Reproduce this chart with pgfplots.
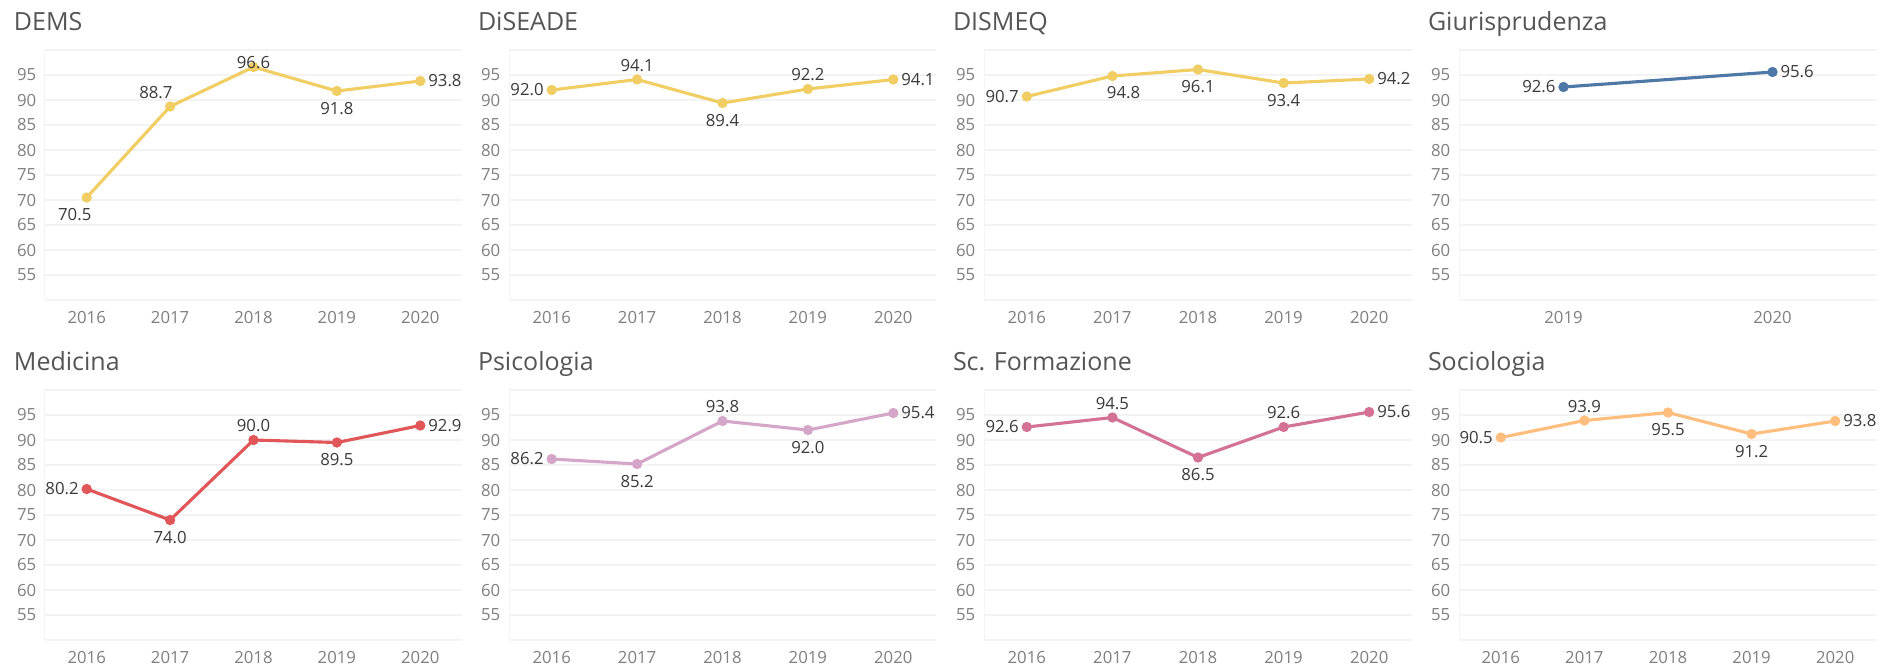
\documentclass[border=0pt]{standalone}
\usepackage{fontspec}
\setmainfont{Open Sans}
\usepackage{pgfplots}
\pgfplotsset{compat=1.18}

\definecolor{cYel}{HTML}{F1CE63}
\definecolor{cBlue}{HTML}{4E79A7}
\definecolor{cRed}{HTML}{E15759}
\definecolor{cLilac}{HTML}{D4A6C8}
\definecolor{cPink}{HTML}{D37295}
\definecolor{cOrange}{HTML}{FFBE7D}
\definecolor{titlegray}{HTML}{555555}
\definecolor{tickgray}{HTML}{7F7F7F}
\definecolor{lblgray}{HTML}{3A3A3A}
\definecolor{gridgray}{HTML}{F3F3F3}

\pgfkeys{/pgf/number format/assume math mode=true}

% one panel = one axis; 1px of the reference = 0.4pt
\pgfplotsset{
  panel/.style={
    scale only axis, height=100pt,
    anchor=north west, clip=false,
    ymin=50, ymax=100, xmin=2015.5, xmax=2020.5,
    xtick={2016,...,2020},
    ytick={50,55,...,100},
    yticklabels={{},55,60,65,70,75,80,85,90,95,{}},
    /pgf/number format/set thousands separator={},
    tick label style={font=\fontsize{6.7}{8}\selectfont, text=tickgray},
    xticklabel style={yshift=-1pt},
    major tick length=0pt,
    ymajorgrids, grid style={gridgray, line width=0.5pt},
    axis x line=bottom, axis y line=left,
    axis line style={draw=black!4, -},
  },
  series/.style={
    color=#1, line width=1.25pt,
    mark=*, mark size=1.4pt, mark options={solid, fill=#1, draw=#1},
    point meta=y,
    nodes near coords={\pgfmathprintnumber[fixed,fixed zerofill,precision=1]{\pgfplotspointmeta}},
    visualization depends on={value \thisrow{a} \as \lang},
    visualization depends on={value \thisrow{s} \as \lsh},
    nodes near coords style={anchor=\lang, yshift=\lsh pt, inner sep=2.6pt,
      font=\fontsize{6.7}{8}\selectfont, text=lblgray},
  },
}
\newcommand{\paneltitle}[1]{%
  \node[anchor=base west, font=\fontsize{10}{12}\selectfont, text=titlegray, inner sep=0pt]
    at ([xshift=-12.6pt,yshift=8pt]rel axis cs:0,1) {#1};}

\begin{document}
\begin{tikzpicture}
\path[use as bounding box] (0,0) rectangle (752pt,-266pt);

% ---- row 1
\begin{axis}[panel, at={(18pt,-20pt)}, width=166.8pt]
\addplot[series=cYel] table {
x y a s
2016 70.5 50 -1
2017 88.7 315 0
2018 96.6 270 -4
2019 91.8 90 -1.2
2020 93.8 180 0
};
\paneltitle{DEMS}
\end{axis}

\begin{axis}[panel, at={(203.6pt,-20pt)}, width=170.8pt]
\addplot[series=cYel] table {
x y a s
2016 92.0 0 0
2017 94.1 270 0
2018 89.4 90 -1.2
2019 92.2 270 0
2020 94.1 180 0
};
\paneltitle{DiSEADE}
\end{axis}

\begin{axis}[panel, at={(393.6pt,-20pt)}, width=171.2pt]
\addplot[series=cYel] table {
x y a s
2016 90.7 0 0
2017 94.8 128 -1
2018 96.1 90 -1.2
2019 93.4 90 -1.2
2020 94.2 180 0
};
\paneltitle{DISMEQ}
\end{axis}

\begin{axis}[panel, at={(583.6pt,-20pt)}, width=167.2pt,
  xmin=2018.5, xmax=2020.5, xtick={2019,2020}]
\addplot[series=cBlue] table {
x y a s
2019 92.6 0 0
2020 95.6 180 0
};
\paneltitle{Giurisprudenza}
\end{axis}

% ---- row 2
\begin{axis}[panel, at={(18pt,-156pt)}, width=166.8pt]
\addplot[series=cRed] table {
x y a s
2016 80.2 0 0
2017 74.0 90 -1.2
2018 90.0 270 0
2019 89.5 90 -1.2
2020 92.9 180 0
};
\paneltitle{Medicina}
\end{axis}

\begin{axis}[panel, at={(203.6pt,-156pt)}, width=170.8pt]
\addplot[series=cLilac] table {
x y a s
2016 86.2 0 0
2017 85.2 90 -1.2
2018 93.8 270 0
2019 92.0 90 -1.2
2020 95.4 180 0
};
\paneltitle{Psicologia}
\end{axis}

\begin{axis}[panel, at={(393.6pt,-156pt)}, width=171.2pt]
\addplot[series=cPink] table {
x y a s
2016 92.6 0 0
2017 94.5 270 0
2018 86.5 90 -1.2
2019 92.6 270 0
2020 95.6 180 0
};
\paneltitle{Sc. Formazione}
\end{axis}

\begin{axis}[panel, at={(583.6pt,-156pt)}, width=167.2pt]
\addplot[series=cOrange] table {
x y a s
2016 90.5 0 0
2017 93.9 270 0
2018 95.5 90 -1.2
2019 91.2 90 -1.2
2020 93.8 180 0
};
\paneltitle{Sociologia}
\end{axis}
\end{tikzpicture}
\end{document}
